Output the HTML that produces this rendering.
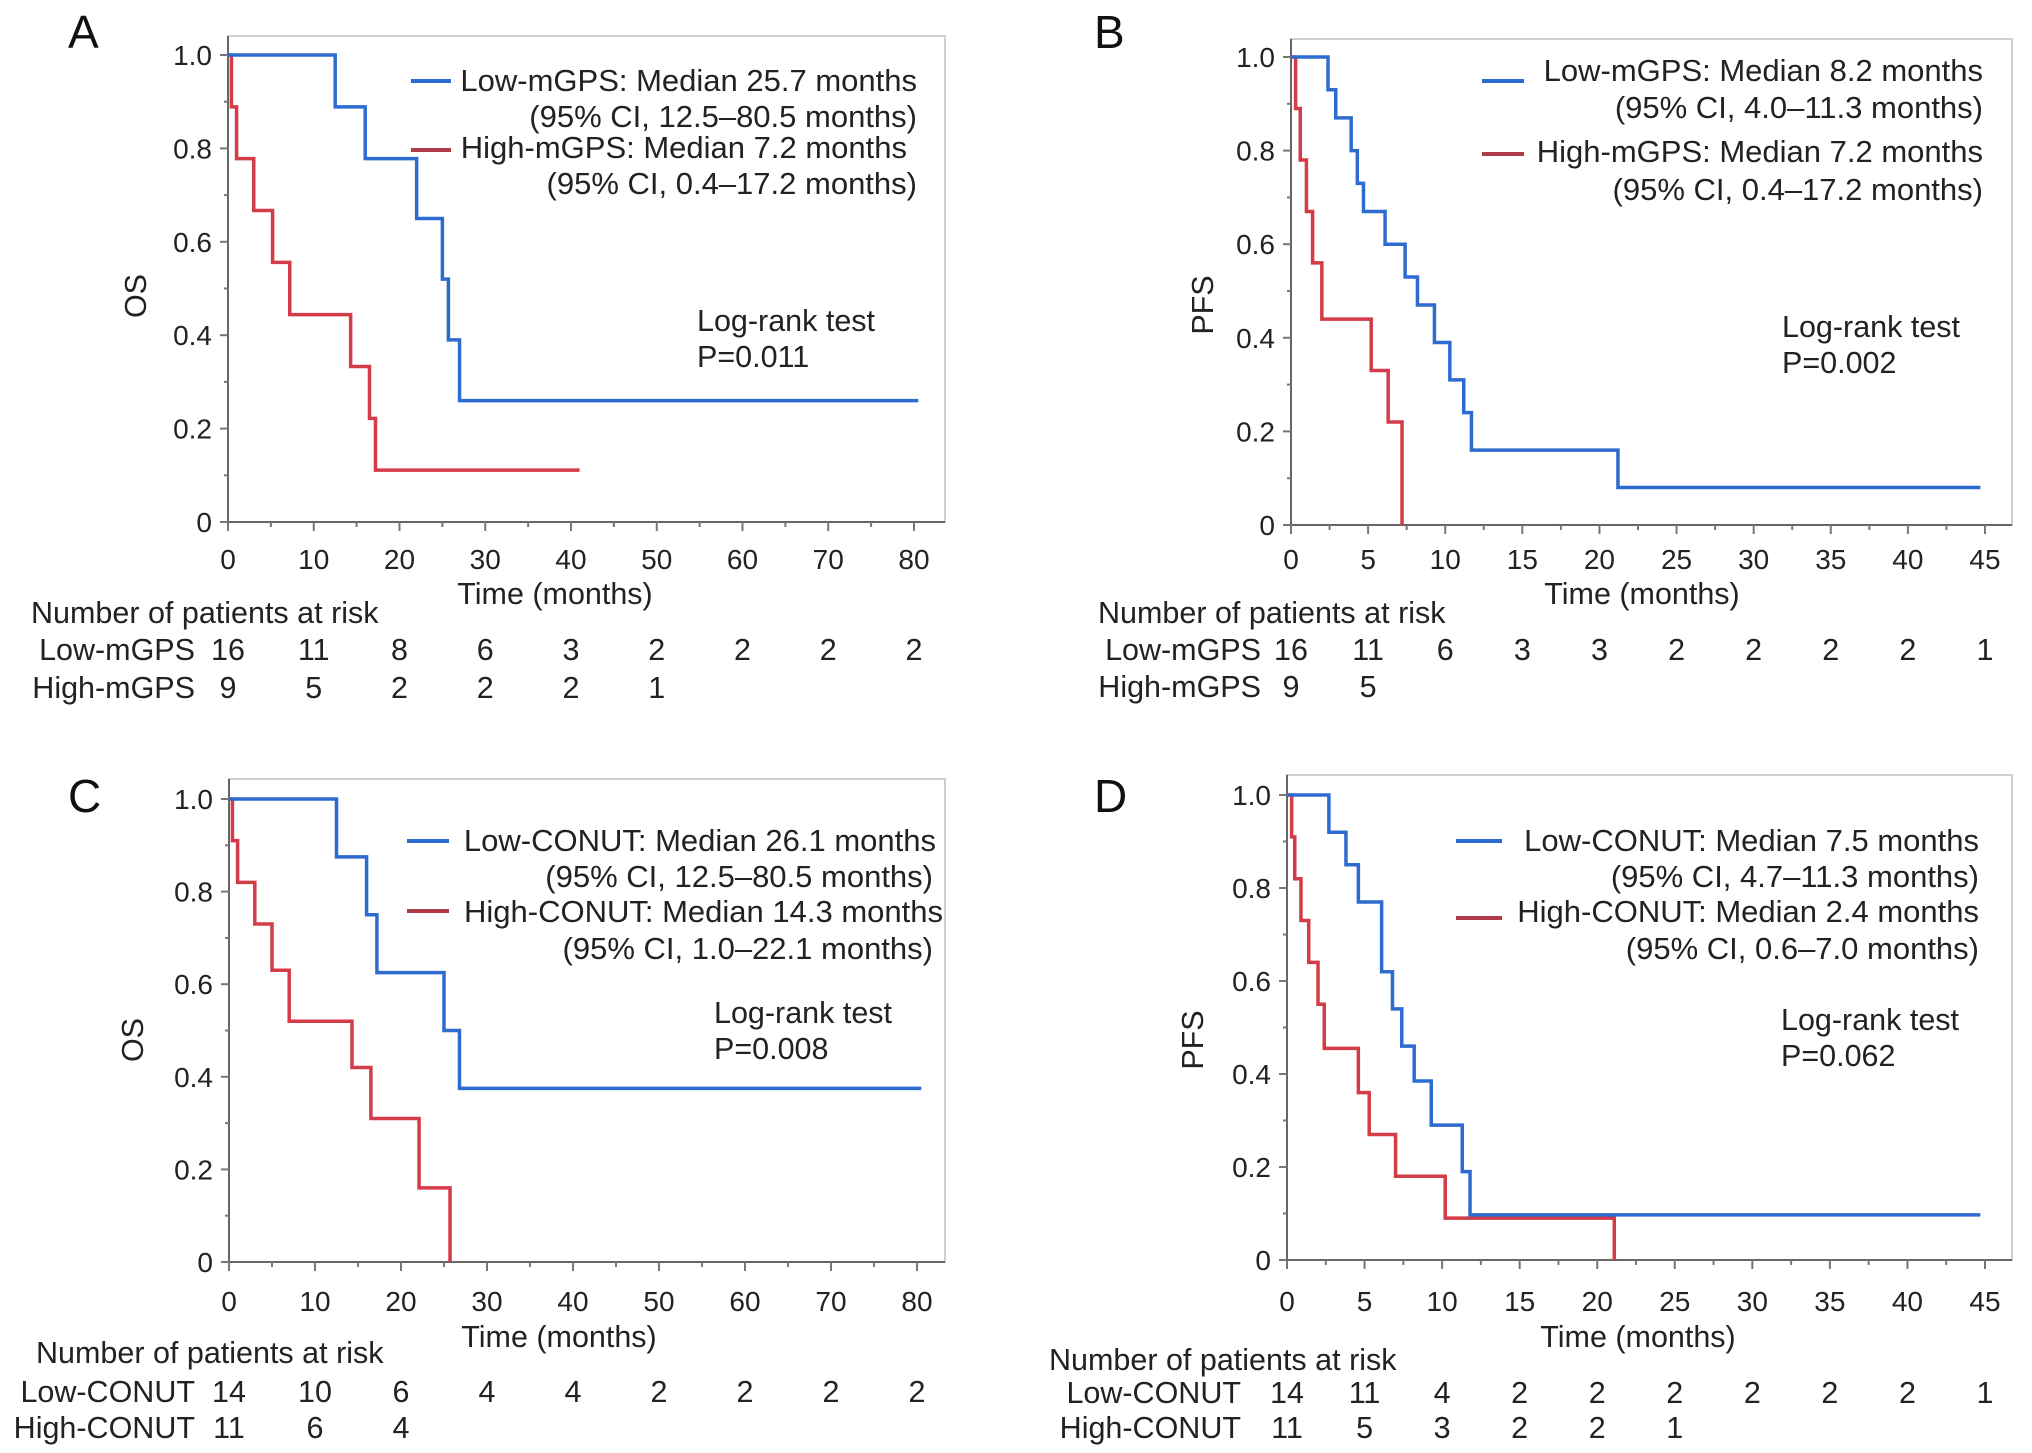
<!DOCTYPE html>
<html><head><meta charset="utf-8"><style>
html,body{margin:0;padding:0;background:#fff;}
svg{display:block;font-family:"Liberation Sans",Arial,sans-serif;}
</style></head><body>
<svg id="chart" width="2032" height="1453" viewBox="0 0 2032 1453" xmlns="http://www.w3.org/2000/svg"></svg>
<script>
// ---- Panel A data ----
const aLowT=[0,12.5,16,22,25,25.7,27,80.5];
const aLowS=[1,0.889,0.778,0.65,0.52,0.39,0.26,0.26];
const aHighT=[0,0.4,1,3,5.2,7.2,14.3,16.5,17.2,41];
const aHighS=[1,0.889,0.778,0.667,0.556,0.444,0.333,0.222,0.111,0.111];
const aXTicks=[0,10,20,30,40,50,60,70,80];
const aRiskLow=[16,11,8,6,3,2,2,2,2];
const aRiskHigh=[9,5,2,2,2,1];
// ---- Panel B data ----
const bLowT=[0,2.4,2.9,3.9,4.3,4.7,6.1,7.4,8.2,9.3,10.3,11.2,11.7,21.2,44.7];
const bLowS=[1,0.93,0.87,0.80,0.73,0.67,0.60,0.53,0.47,0.39,0.31,0.24,0.16,0.08,0.08];
const bHighT=[0,0.3,0.6,1.0,1.4,2.0,5.2,6.3,7.2];
const bHighS=[1,0.89,0.78,0.67,0.56,0.44,0.33,0.22,0];
const bXTicks=[0,5,10,15,20,25,30,35,40,45];
const bRiskLow=[16,11,6,3,3,2,2,2,2,1];
const bRiskHigh=[9,5];
// ---- Panel C data ----
const cLowT=[0,12.5,16,17.2,25,26.8,80.5];
const cLowS=[1,0.875,0.75,0.625,0.5,0.375,0.375];
const cHighT=[0,0.4,1,3,5,7,14.3,16.5,22.1,25.7];
const cHighS=[1,0.91,0.82,0.73,0.63,0.52,0.42,0.31,0.16,0];
const cXTicks=[0,10,20,30,40,50,60,70,80];
const cRiskLow=[14,10,6,4,4,2,2,2,2];
const cRiskHigh=[11,6,4];
// ---- Panel D data ----
const dLowT=[0,2.7,3.8,4.6,6.1,6.8,7.4,8.2,9.3,11.3,11.8,44.7];
const dLowS=[1,0.92,0.85,0.77,0.62,0.54,0.46,0.385,0.29,0.19,0.097,0.097];
const dHighT=[0,0.3,0.5,0.9,1.4,2.0,2.4,4.6,5.3,7.0,10.2,21.1];
const dHighS=[1,0.91,0.82,0.73,0.64,0.55,0.455,0.36,0.27,0.18,0.09,0];
const dXTicks=[0,5,10,15,20,25,30,35,40,45];
const dRiskLow=[14,11,4,2,2,2,2,2,2,1];
const dRiskHigh=[11,5,3,2,2,1];
const yTicks=[0,0.2,0.4,0.6,0.8,1.0];

const NS="http://www.w3.org/2000/svg";
const svg=document.getElementById('chart');
function el(tag,attrs,parent,text){const e=document.createElementNS(NS,tag);for(const k in attrs)e.setAttribute(k,attrs[k]);if(text!==undefined)e.textContent=text;(parent||svg).appendChild(e);return e;}
const BLUE='#2e6bd1',RED='#d23b47';
const FS=30.5;

function panel(p){
  const g=el('g',{});
  
  
  const X=v=>p.x0+(p.x1-p.x0)*v/p.xmax;
  const Y=v=>p.y0+(p.y1-p.y0)*v;
  const fr=el('rect',{x:p.x0,y:p.top,width:p.right-p.x0,height:p.y0-p.top,fill:'#fff',stroke:'#cfcfcf','stroke-width':2},g);
  
  const ax=el('path',{d:`M${p.x0},${p.top}V${p.y0}H${p.right}`,stroke:'#666','stroke-width':2,fill:'none'},g);
  
  for(let i=0;i<=10;i++){const v=i/10;el('line',{x1:p.x0-(i%2?4:8),x2:p.x0,y1:Y(v),y2:Y(v),stroke:'#777','stroke-width':2},g);}
  yTicks.forEach(v=>{const t=el('text',{x:p.x0-16,y:Y(v)+10,'text-anchor':'end','font-size':28,fill:'#222'},g,v===0?'0':v.toFixed(1));
    });
  const step=p.xticks[1]-p.xticks[0];
  p.xticks.forEach((v,i)=>{el('line',{x1:X(v),x2:X(v),y1:p.y0,y2:p.y0+9,stroke:'#777','stroke-width':2},g);
    if(i<p.xticks.length-1)el('line',{x1:X(v+step/2),x2:X(v+step/2),y1:p.y0,y2:p.y0+5,stroke:'#777','stroke-width':2},g);
    const t=el('text',{x:X(v),y:p.tickY,'text-anchor':'middle','font-size':28,fill:'#222'},g,String(v));
    });
  function curve(T,S,color,name){let d=`M${X(T[0])},${Y(S[0])}`;
    for(let i=1;i<T.length;i++){d+=`H${X(T[i])}V${Y(S[i])}`;}
    const c=el('path',{d,stroke:color,'stroke-width':3.5,fill:'none'},g);
    }
  curve(p.hT,p.hS,RED,'high-group-curve');
  curve(p.lT,p.lS,BLUE,'low-group-curve');
  const L=el('text',{x:p.letterX,y:p.letterY,'font-size':46,fill:'#111'},g,p.id);
  
  const yl=el('text',{x:p.ylX,y:p.ylY,'text-anchor':'middle','font-size':FS,fill:'#222',transform:`rotate(-90 ${p.ylX} ${p.ylY})`},g,p.ylabel);
  
  const xl=el('text',{x:p.xlX,y:p.xlY,'text-anchor':'middle','font-size':FS,fill:'#222'},g,'Time (months)');
  
  const lg=el('g',{},g);
  el('line',{x1:p.lgLine[0],x2:p.lgLine[1],y1:p.lgLowY,y2:p.lgLowY,stroke:BLUE,'stroke-width':4},lg);
  el('line',{x1:p.lgLine[0],x2:p.lgLine[1],y1:p.lgHighY,y2:p.lgHighY,stroke:'#b23a48','stroke-width':4},lg);
  p.lgText.forEach(r=>{const t=el('text',{x:r[0],y:r[1],'text-anchor':'end','font-size':31,fill:'#222'},lg,r[2]);
    });
  const lr=el('text',{x:p.lrX,y:p.lrY,'font-size':FS,fill:'#222'},g,'Log-rank test');
  
  const pv=el('text',{x:p.lrX,y:p.lrY+36,'font-size':FS,fill:'#222'},g,p.pval);
  
  const rt=el('g',{},g);
  el('text',{x:p.rhX,y:p.rhY,'font-size':FS,fill:'#222'},rt,'Number of patients at risk');
  el('text',{x:p.rlX,y:p.r1Y,'text-anchor':'end','font-size':FS,fill:'#222'},rt,p.lowName);
  el('text',{x:p.rlX,y:p.r2Y,'text-anchor':'end','font-size':FS,fill:'#222'},rt,p.highName);
  p.rLow.forEach((v,i)=>el('text',{x:X(p.xticks[i]),y:p.r1Y,'text-anchor':'middle','font-size':FS,fill:'#222'},rt,String(v)));
  p.rHigh.forEach((v,i)=>el('text',{x:X(p.xticks[i]),y:p.r2Y,'text-anchor':'middle','font-size':FS,fill:'#222'},rt,String(v)));
}

panel({id:'A',x0:228,x1:914,xmax:80,y0:522,y1:55,top:36,right:945,tickY:569,xticks:aXTicks,
  lT:aLowT,lS:aLowS,hT:aHighT,hS:aHighS,letterX:68,letterY:48,ylabel:'OS',ylX:146,ylY:296,xlX:555,xlY:604,
  lgLine:[411,451],lgLowY:81,lgHighY:150,lgText:[[917,91,'Low-mGPS: Median 25.7 months'],[917,127,'(95% CI, 12.5–80.5 months)'],[907,158,'High-mGPS: Median 7.2 months'],[917,194,'(95% CI, 0.4–17.2 months)']],
  lrX:697,lrY:331,pval:'P=0.011',rhX:31,rhY:623,rlX:195,r1Y:660,r2Y:698,lowName:'Low-mGPS',highName:'High-mGPS',rLow:aRiskLow,rHigh:aRiskHigh});
panel({id:'B',x0:1291,x1:1985,xmax:45,y0:525,y1:57,top:39,right:2012,tickY:569,xticks:bXTicks,
  lT:bLowT,lS:bLowS,hT:bHighT,hS:bHighS,letterX:1094,letterY:48,ylabel:'PFS',ylX:1213,ylY:305,xlX:1642,xlY:604,
  lgLine:[1482,1524],lgLowY:81,lgHighY:154,lgText:[[1983,81,'Low-mGPS: Median 8.2 months'],[1983,118,'(95% CI, 4.0–11.3 months)'],[1983,162,'High-mGPS: Median 7.2 months'],[1983,200,'(95% CI, 0.4–17.2 months)']],
  lrX:1782,lrY:337,pval:'P=0.002',rhX:1098,rhY:623,rlX:1261,r1Y:660,r2Y:697,lowName:'Low-mGPS',highName:'High-mGPS',rLow:bRiskLow,rHigh:bRiskHigh});
panel({id:'C',x0:229,x1:917,xmax:80,y0:1262,y1:799,top:779,right:945,tickY:1311,xticks:cXTicks,
  lT:cLowT,lS:cLowS,hT:cHighT,hS:cHighS,letterX:68,letterY:812,ylabel:'OS',ylX:143,ylY:1040,xlX:559,xlY:1347,
  lgLine:[407,449],lgLowY:841,lgHighY:911,lgText:[[936,851,'Low-CONUT: Median 26.1 months'],[933,887,'(95% CI, 12.5–80.5 months)'],[943,922,'High-CONUT: Median 14.3 months'],[933,959,'(95% CI, 1.0–22.1 months)']],
  lrX:714,lrY:1023,pval:'P=0.008',rhX:36,rhY:1363,rlX:195,r1Y:1402,r2Y:1438,lowName:'Low-CONUT',highName:'High-CONUT',rLow:cRiskLow,rHigh:cRiskHigh});
panel({id:'D',x0:1287,x1:1985,xmax:45,y0:1260,y1:795,top:775,right:2012,tickY:1311,xticks:dXTicks,
  lT:dLowT,lS:dLowS,hT:dHighT,hS:dHighS,letterX:1094,letterY:812,ylabel:'PFS',ylX:1203,ylY:1040,xlX:1638,xlY:1347,
  lgLine:[1456,1502],lgLowY:841,lgHighY:918,lgText:[[1979,851,'Low-CONUT: Median 7.5 months'],[1979,887,'(95% CI, 4.7–11.3 months)'],[1979,922,'High-CONUT: Median 2.4 months'],[1979,959,'(95% CI, 0.6–7.0 months)']],
  lrX:1781,lrY:1030,pval:'P=0.062',rhX:1049,rhY:1370,rlX:1241,r1Y:1403,r2Y:1438,lowName:'Low-CONUT',highName:'High-CONUT',rLow:dRiskLow,rHigh:dRiskHigh});
</script>
</body></html>
